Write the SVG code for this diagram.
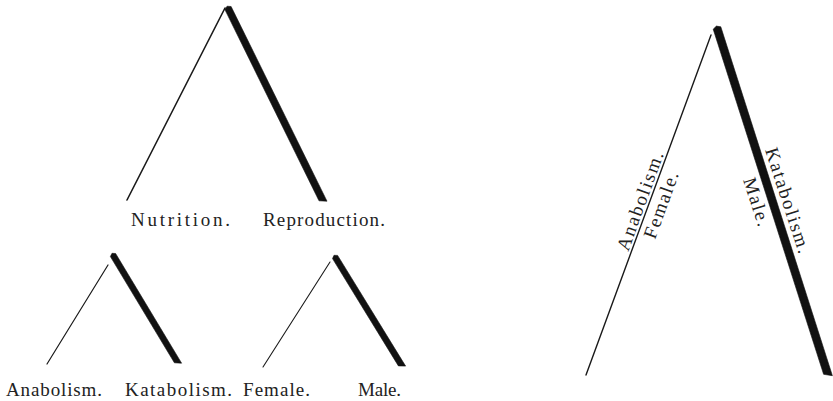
<svg xmlns="http://www.w3.org/2000/svg" width="833" height="401" viewBox="0 0 833 401">
<style>
.thin{stroke:#1a1a1a;fill:none;stroke-linecap:round}
.thick{fill:#111;stroke:#111;stroke-width:0.6;stroke-linejoin:round}
.lbl{font-family:'Liberation Serif','Times New Roman','DejaVu Serif',serif;font-size:19px;fill:#222}
</style>
<rect width="833" height="401" fill="#fff"/>
<g id="connectors">
<line class="thin" x1="225" y1="8" x2="127" y2="200" stroke-width="1.6"/>
<polygon class="thick" points="224.9,9.6 227.1,6.2 231.1,6.5 327,201.2 319,200.8"/>
<line class="thin" x1="108" y1="265" x2="47" y2="364" stroke-width="1.2"/>
<polygon class="thick" points="110.4,256.6 112,253.3 115.6,253.5 181.6,363.2 174.4,362.8"/>
<line class="thin" x1="330" y1="262" x2="263" y2="367" stroke-width="1.1"/>
<polygon class="thick" points="332.5,258.6 334,255.3 337.6,255.4 405.6,366.1 398.4,365.9"/>
<line class="thin" x1="711" y1="35" x2="586" y2="375" stroke-width="1.4"/>
<polygon class="thick" points="713.2,29.2 716.4,26.1 720.8,26.8 832.4,375.7 823.6,374.3"/>
</g>
<g id="node-nutrition"><text class="lbl" x="131" y="226" textLength="99" lengthAdjust="spacing">Nutrition.</text></g>
<g id="node-reproduction"><text class="lbl" x="263" y="226" textLength="122" lengthAdjust="spacing">Reproduction.</text></g>
<g id="node-anabolism"><text class="lbl" x="6" y="396" textLength="96" lengthAdjust="spacing">Anabolism.</text></g>
<g id="node-katabolism"><text class="lbl" x="125" y="396" textLength="107" lengthAdjust="spacing">Katabolism.</text></g>
<g id="node-female"><text class="lbl" x="243" y="396" textLength="67" lengthAdjust="spacing">Female.</text></g>
<g id="node-male"><text class="lbl" x="358" y="396" textLength="43" lengthAdjust="spacing">Male.</text></g>
<g id="node-right-anabolism"><text class="lbl" transform="translate(628.2,252) rotate(-70)" textLength="104" lengthAdjust="spacing">Anabolism.</text></g>
<g id="node-right-female"><text class="lbl" transform="translate(655,240) rotate(-70)" textLength="70" lengthAdjust="spacing">Female.</text></g>
<g id="node-right-katabolism"><text class="lbl" transform="translate(765,150) rotate(72)" textLength="110" lengthAdjust="spacing">Katabolism.</text></g>
<g id="node-right-male"><text class="lbl" transform="translate(743,180) rotate(72)" textLength="50" lengthAdjust="spacing">Male.</text></g>
</svg>
